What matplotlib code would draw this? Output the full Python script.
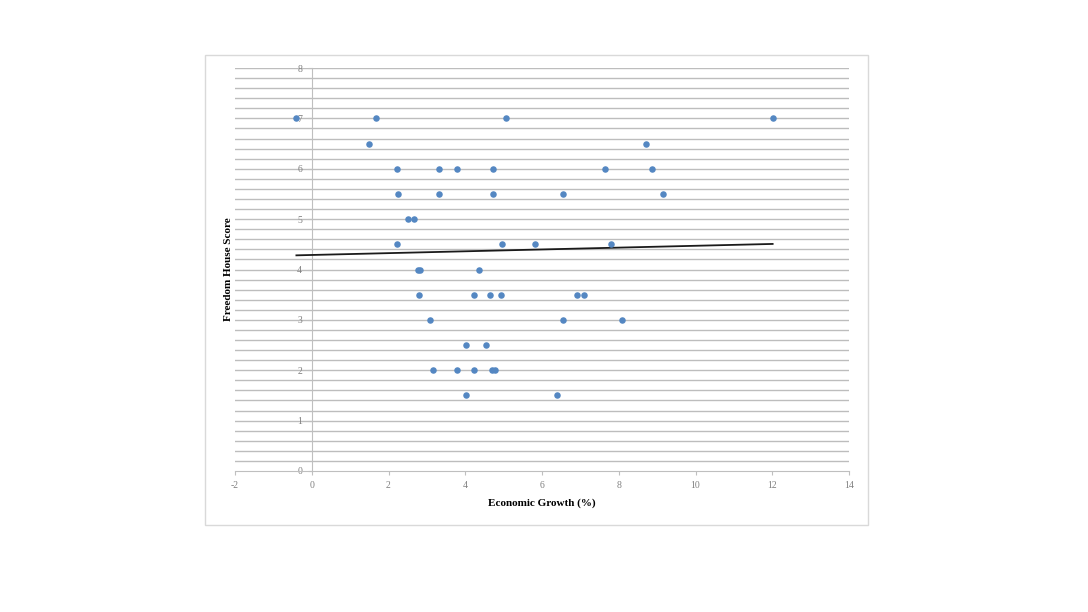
import numpy as np
import matplotlib
matplotlib.use("Agg")
import matplotlib.pyplot as plt
from matplotlib.patches import Rectangle

# Data
growth = [-0.40, 1.67, 5.05, 12.01,
          1.48, 8.71,
          2.22, 3.32, 3.79, 4.73, 7.65, 8.87,
          2.26, 3.32, 4.73, 6.55, 9.15,
          2.52, 2.66,
          2.22, 4.97, 5.83, 7.80,
          2.77, 2.82, 4.35,
          2.80, 4.23, 4.65, 4.93, 6.90, 7.10,
          3.08, 6.55, 8.09,
          4.03, 4.53,
          3.16, 3.79, 4.23, 4.69, 4.77,
          4.03, 6.40]
score = [7, 7, 7, 7,
         6.5, 6.5,
         6, 6, 6, 6, 6, 6,
         5.5, 5.5, 5.5, 5.5, 5.5,
         5, 5,
         4.5, 4.5, 4.5, 4.5,
         4, 4, 4,
         3.5, 3.5, 3.5, 3.5, 3.5, 3.5,
         3, 3, 3,
         2.5, 2.5,
         2, 2, 2, 2, 2,
         1.5, 1.5]
x_ticks = [-2, 0, 2, 4, 6, 8, 10, 12, 14]
y_ticks = [0, 1, 2, 3, 4, 5, 6, 7, 8]

serif = ["Liberation Serif", "DejaVu Serif"]

fig = plt.figure(figsize=(10.88, 6.12), dpi=100)
fig.patches.append(Rectangle((205 / 1088, 1 - 525 / 612), 663 / 1088, 470 / 612,
                             transform=fig.transFigure, fill=False,
                             edgecolor="#d9d9d9", linewidth=1.0))

ax = fig.add_axes([235 / 1088, 1 - 471 / 612, 614 / 1088, 403 / 612])
ax.set_xlim(-2, 14)
ax.set_ylim(0, 8)

# gridlines every 0.2
for g in np.arange(0.2, 8.01, 0.2):
    ax.axhline(g, color="#bdbdbd", linewidth=1.0, zorder=1)

for s in ["top", "right"]:
    ax.spines[s].set_visible(False)
ax.spines["left"].set_position(("data", 0))
ax.spines["left"].set_color("#bfbfbf")
ax.spines["bottom"].set_color("#bfbfbf")

ax.set_xticks(x_ticks)
ax.set_yticks(y_ticks)
ax.set_xticklabels([str(t) for t in x_ticks], fontfamily=serif, fontsize=7, color="#808080")
ax.set_yticklabels([str(t) for t in y_ticks], fontfamily=serif, fontsize=7, color="#808080")
ax.tick_params(axis="both", length=3, width=0.8, color="#bfbfbf", pad=4)

ax.scatter(growth, score, s=22, color="#5487C2", zorder=4, clip_on=False, linewidths=0)

slope, intercept = np.polyfit(growth, score, 1)
xs = np.array([min(growth), max(growth)])
ax.plot(xs, slope * xs + intercept, color="#1a1a1a", linewidth=1.3, zorder=3)

ax.set_xlabel("Economic Growth (%)", fontfamily=serif, fontsize=8, fontweight="bold", labelpad=6)
ax.set_ylabel("Freedom House Score", fontfamily=serif, fontsize=8, fontweight="bold")
ax.yaxis.set_label_coords(-0.004, 0.5)

fig.savefig("out.png", dpi=100)
